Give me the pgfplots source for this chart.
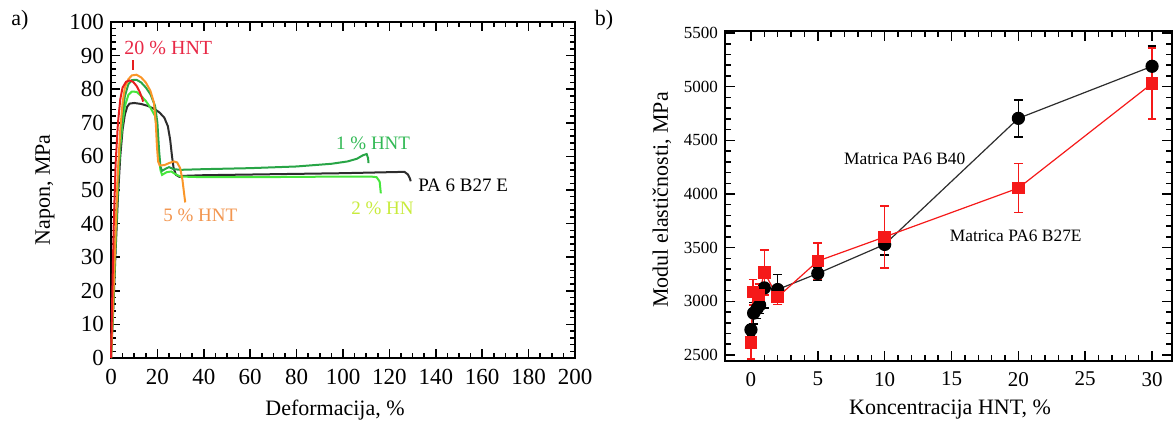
\documentclass[border=0pt]{standalone}
\usepackage{pgfplots}
\pgfplotsset{compat=1.18}
\usepackage{fontspec}
\setmainfont{Liberation Serif}
\definecolor{cBlk}{RGB}{45,45,45}
\definecolor{cDG}{RGB}{40,165,70}
\definecolor{cLG}{RGB}{70,230,60}
\definecolor{cOr}{RGB}{250,150,40}
\definecolor{cRd}{RGB}{230,30,30}
\definecolor{tRd}{RGB}{232,40,70}
\definecolor{tDG}{RGB}{50,185,85}
\definecolor{tYG}{RGB}{200,235,60}
\definecolor{tOr}{RGB}{242,150,80}
\definecolor{bRd}{RGB}{245,25,25}

\pgfplotstableread{
x y e
0 2735 50
0.2 2890 100
0.45 2930 90
0.65 2965 80
1 3125 190
2 3110 140
5 3260 60
10 3530 100
20 4705 172
30 5190 190
}\blackdata
\pgfplotstableread{
x y e
0 2615 150
0.15 3085 120
0.6 3060 100
1 3270 210
2 3040 70
5 3375 170
10 3600 290
20 4055 228
30 5030 330
}\reddata

\begin{document}
\begin{tikzpicture}
\path[use as bounding box] (0,0) rectangle (586.5pt,213pt);

% ---------------- panel a ----------------
\begin{axis}[at={(55.5pt,34pt)}, anchor=south west, scale only axis,
  width=232pt, height=168pt,
  xmin=0, xmax=200, ymin=0, ymax=100,
  xtick={0,20,...,200}, ytick={0,10,...,100},
  minor x tick num=3, minor y tick num=4,
  major tick length=4.5pt, minor tick length=2.7pt,
  axis line style={line width=0.8pt},
  every tick/.style={black, line width=0.75pt},
  tick label style={font=\fontsize{11.5}{13}\selectfont},
  xticklabel style={yshift=-2pt},
  /pgf/number format/assume math mode=true,
  clip=false]
\addplot[cBlk, line width=1pt] coordinates {
(0,0)(1,15)(2,32)(3,48)(4,60)(5,68)(6,72.5)(7,74.8)(8,75.7)(10,75.9)(13,75.6)(16,75)(19,74)(21,73)(23,71.5)(24.5,69)(25.5,65)(26.3,60)(27,56.5)(28,54.5)(29.5,53.9)(31,54.2)(40,54.4)(60,54.6)(80,54.8)(100,55)(120,55.3)(126.5,55.4)(128,54.6)(128.8,53.5)(129.2,52.6)};
\addplot[cLG, line width=1pt] coordinates {
(0,0)(1,17)(2,35)(3,52)(4,63)(5,70)(6,75)(7.5,78.3)(9,79.3)(11,79.2)(13,78)(15,76.5)(17,74.5)(19,72)(20,67)(20.7,60)(21.3,56)(22,54.5)(24,55.3)(26,55.5)(28,54.6)(30,54)(40,53.8)(60,53.8)(80,53.9)(100,54)(112,54)(114.5,53.8)(115.8,52.5)(116.3,49)};
\addplot[cDG, line width=1pt] coordinates {
(0,0)(1,17)(2,36)(3,53)(4,65)(5,73)(6,78)(7.5,81.5)(9,82.7)(11,82.8)(13,82)(15,80.5)(17,78.5)(19,75)(20,70)(20.7,62)(21.3,57)(22,55.7)(23.5,56.3)(25,56.8)(27,56.2)(30,56)(40,56.2)(60,56.5)(80,57)(95,57.8)(102,58.5)(106,59.3)(108.5,60.3)(110.2,60.7)(110.8,59.5)(111,58)};
\addplot[cOr, line width=1pt] coordinates {
(0,0)(1,18)(2,38)(3,56)(4,68)(5,76)(6,80.5)(7.5,83)(9,84.1)(11,84.3)(13,83.5)(15,82)(17,79.5)(18.5,76)(19.3,70)(19.8,63)(20.3,58.5)(21,57.3)(23,57.4)(25,58)(27,58.5)(28.5,58.2)(29.8,56.5)(30.8,53)(31.5,49)(32,46.3)};
\addplot[cRd, line width=1pt] coordinates {
(0,0)(0.6,20)(1.2,40)(2,58)(3,70)(4,77)(5,80.5)(6.5,82.2)(8,82.6)(9.5,82.2)(11,81)(12.3,79.3)(13.3,77.5)(13.9,76.3)};
\addplot[cRd, line width=1pt] coordinates {(9.3,85.8)(9.3,88.6)};
\node[tRd, font=\fontsize{10}{12}\selectfont] at (axis cs:24.7,92.3) {20 \% HNT};
\node[tDG, font=\fontsize{9.5}{11}\selectfont] at (axis cs:113,64) {1 \% HNT};
\node[tYG, font=\fontsize{9.5}{11}\selectfont] at (axis cs:117,44.6) {2 \% HN};
\node[tOr, font=\fontsize{9.5}{11}\selectfont] at (axis cs:38.5,42.6) {5 \% HNT};
\node[black, anchor=west, inner sep=0pt, font=\fontsize{9.5}{11}\selectfont] at (axis cs:132.3,51.5) {PA 6 B27 E};
\end{axis}

% ---------------- panel b ----------------
\begin{axis}[at={(362.5pt,32.5pt)}, anchor=south west, scale only axis,
  width=223.5pt, height=165pt,
  xmin=-1.94, xmax=31.49, ymin=2444, ymax=5519,
  xtick={0,5,...,30}, ytick={2500,3000,...,5500},
  minor x tick num=4, minor y tick num=4,
  major tick length=5pt, minor tick length=3pt,
  axis line style={line width=0.8pt},
  every tick/.style={black, line width=0.75pt},
  scaled ticks=false,
  /pgf/number format/1000 sep={},
  /pgf/number format/assume math mode=true,
  xticklabel style={font=\fontsize{10.5}{12}\selectfont, yshift=-2pt},
  yticklabel style={font=\fontsize{8.5}{10}\selectfont},
  clip=false]
\addplot[cBlk, line width=0.6pt, mark=*, mark size=3pt, mark options={fill=black, draw=black},
  error bars/.cd, y dir=both, y explicit,
  error bar style={line width=0.8pt, black},
  error mark options={rotate=90, mark size=2.2pt, line width=0.8pt, black}]
  table[x=x, y=y, y error=e] {\blackdata};
\addplot[bRd, line width=0.6pt, mark=square*, mark size=2.8pt, mark options={fill=bRd, draw=bRd},
  error bars/.cd, y dir=both, y explicit,
  error bar style={line width=0.8pt, bRd},
  error mark options={rotate=90, mark size=2.2pt, line width=0.8pt, bRd}]
  table[x=x, y=y, y error=e] {\reddata};
\node[font=\fontsize{8.7}{10}\selectfont] at (axis cs:11.5,4330) {Matrica PA6 B40};
\node[font=\fontsize{8.7}{10}\selectfont] at (axis cs:19.8,3607) {Matrica PA6 B27E};
\end{axis}

% labels
\node[font=\fontsize{11}{13}\selectfont] at (167.5pt,8pt) {Deformacija, \%};
\node[font=\fontsize{11}{13}\selectfont, rotate=90] at (22.5pt,118pt) {Napon, MPa};
\node[font=\fontsize{11}{13}\selectfont] at (475pt,8pt) {Koncentracija HNT, \%};
\node[font=\fontsize{11}{13}\selectfont, rotate=90] at (331pt,113pt) {Modul elastičnosti, MPa};
\node[font=\fontsize{11}{13}\selectfont] at (10pt,203pt) {a)};
\node[font=\fontsize{11}{13}\selectfont] at (302pt,203pt) {b)};
\end{tikzpicture}
\end{document}
